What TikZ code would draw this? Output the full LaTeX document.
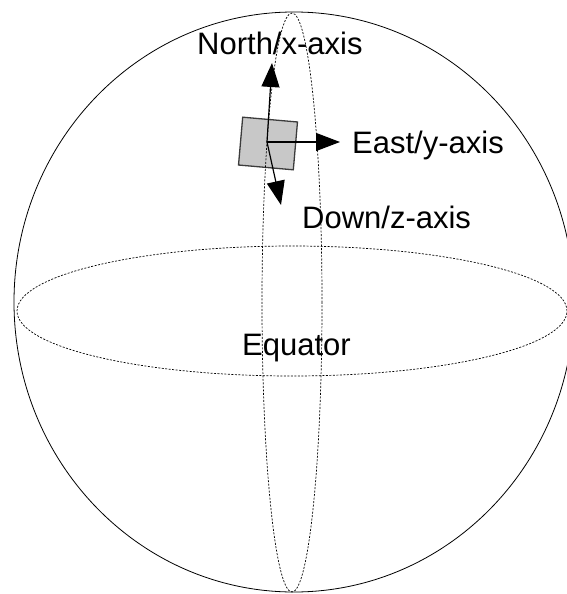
\documentclass[tikz,border=0pt]{standalone}
\usepackage{fontspec}
\setmainfont{Liberation Sans}
\usetikzlibrary{arrows.meta}
\definecolor{platefill}{RGB}{200,200,200}
\definecolor{plateedge}{RGB}{60,60,60}
\newcommand{\axislabel}[4]{\node[anchor=base west,inner sep=0pt,font=\fontsize{31}{36}\selectfont] (#1) at (#2,#3) {#4};}
\newcommand{\dashring}[5]{\draw[line width=0.7pt,dash pattern=on 2pt off 1.5pt] (#1,#2) ellipse[x radius=#3pt,y radius=#4pt] #5;}

\begin{document}
\begin{tikzpicture}[x=1pt,y=-1pt]
\useasboundingbox (0,0) rectangle (567,594);
\node[draw=plateedge,fill=platefill,line width=1.3pt,minimum width=55pt,minimum height=48pt,inner sep=0pt,rotate=-5] (plate) at (268,143.5) {};
\draw[line width=0.8pt] (294,302) ellipse[x radius=280pt,y radius=290pt];
\dashring{292}{311}{275}{65}{}
\dashring{292}{302.5}{30}{289.5}{}
\coordinate (origin) at (267,142);
\coordinate (northtip) at (272,63);
\coordinate (easttip) at (340,142);
\coordinate (downtip) at (281,205);
\draw[line width=1.2pt,-{Triangle[length=24pt,width=18pt]}] (origin)--(northtip);
\draw[line width=1.2pt,-{Triangle[length=24pt,width=18pt]}] (origin)--(easttip);
\draw[line width=1.2pt,-{Triangle[length=24pt,width=18pt]}] (origin)--(downtip);
\axislabel{north}{197}{55}{North/x-axis}
\axislabel{east}{352}{153}{East/y-axis}
\axislabel{down}{302}{228}{Down/z-axis}
\axislabel{equator}{242}{355}{Equator}
\end{tikzpicture}
\end{document}
